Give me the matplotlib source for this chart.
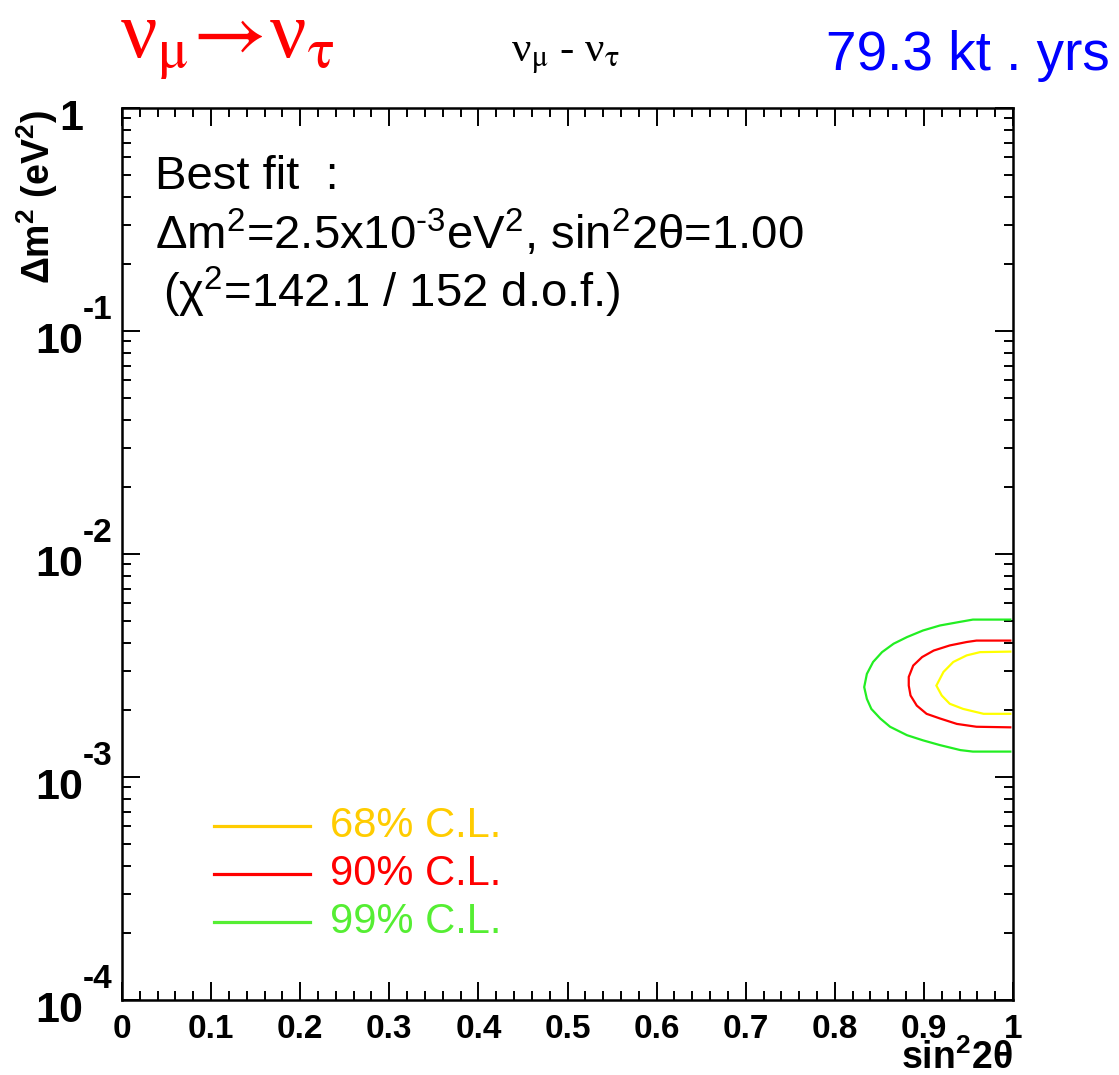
import numpy as np
import matplotlib
matplotlib.use("Agg")
import matplotlib.pyplot as plt
from matplotlib.ticker import MultipleLocator, LogLocator, FuncFormatter, NullFormatter

plt.rcParams['font.family'] = ['Liberation Sans', 'DejaVu Sans']
plt.rcParams['mathtext.fontset'] = 'custom'
plt.rcParams['mathtext.rm'] = 'Liberation Sans'
plt.rcParams['mathtext.it'] = 'Liberation Sans:italic'
plt.rcParams['mathtext.bf'] = 'Liberation Sans:bold'
plt.rcParams['mathtext.sf'] = 'Liberation Sans'

# allowed regions (sin^2 2theta, dm^2)
x68 = [0.997, 0.963, 0.948, 0.933, 0.922, 0.914, 0.920, 0.929, 0.944, 0.967, 0.997]
y68 = [3.65e-3, 3.63e-3, 3.51e-3, 3.28e-3, 2.96e-3, 2.57e-3, 2.32e-3, 2.13e-3, 2.02e-3, 1.92e-3, 1.92e-3]

x90 = [0.997, 0.959, 0.948, 0.929, 0.911, 0.898, 0.888, 0.883, 0.883, 0.885, 0.892,
       0.903, 0.918, 0.937, 0.959, 0.997]
y90 = [4.09e-3, 4.09e-3, 4.03e-3, 3.89e-3, 3.69e-3, 3.45e-3, 3.16e-3, 2.81e-3, 2.57e-3,
       2.32e-3, 2.09e-3, 1.92e-3, 1.83e-3, 1.73e-3, 1.68e-3, 1.67e-3]

x99 = [0.997, 0.955, 0.939, 0.918, 0.899, 0.881, 0.866, 0.853, 0.843, 0.836, 0.833,
       0.836, 0.841, 0.851, 0.862, 0.881, 0.899, 0.918, 0.941, 0.955, 0.997]
y99 = [5.08e-3, 5.08e-3, 4.95e-3, 4.78e-3, 4.54e-3, 4.24e-3, 3.96e-3, 3.63e-3, 3.28e-3,
       2.90e-3, 2.53e-3, 2.24e-3, 2.02e-3, 1.83e-3, 1.68e-3, 1.54e-3, 1.46e-3, 1.39e-3,
       1.32e-3, 1.30e-3, 1.30e-3]

cl_labels = ['68% C.L.', '90% C.L.', '99% C.L.']
cl_colors = ['#ffcc00', '#ff0000', '#55ee33']
contour_colors = ['#ffff00', '#ff0000', '#22ee22']
decades = [0, -1, -2, -3, -4]

W, H = 1119, 1075
PX = 72 / 100  # points per pixel at dpi 100
fig = plt.figure(figsize=(W / 100, H / 100), dpi=100)
ax = fig.add_axes([122 / W, 1 - 1000 / H, (1013 - 122) / W, (1000 - 108) / H])

for xs, ys, c in zip([x68, x90, x99], [y68, y90, y99], contour_colors):
    ax.plot(xs, ys, color=c, lw=1.6, solid_joinstyle='miter')

ax.set_xlim(0, 1)
ax.set_yscale('log')
ax.set_ylim(1e-4, 1)

ax.xaxis.set_major_locator(MultipleLocator(0.1))
ax.xaxis.set_minor_locator(MultipleLocator(0.02))
ax.yaxis.set_major_locator(LogLocator(base=10, numticks=10))
ax.yaxis.set_minor_locator(LogLocator(base=10, subs=np.arange(2, 10), numticks=20))
ax.yaxis.set_minor_formatter(NullFormatter())
ax.yaxis.set_major_formatter(NullFormatter())

def xfmt(v, pos):
    if abs(v) < 1e-9:
        return '0'
    if abs(v - 1) < 1e-9:
        return '1'
    return '%.1f' % v

ax.xaxis.set_major_formatter(FuncFormatter(xfmt))
ax.tick_params(which='both', direction='in', top=True, right=True, width=1.4, colors='black')
ax.tick_params(which='major', length=13)
ax.tick_params(which='minor', length=6.5)
ax.tick_params(axis='x', which='major', labelsize=24, pad=10)
for lab in ax.get_xticklabels():
    lab.set_fontweight('bold')
for s in ax.spines.values():
    s.set_linewidth(1.8)

# decade labels on the y axis: "10" with a raised exponent
for e in decades:
    base = '1' if e == 0 else '10'
    ax.annotate(base, xy=(0, 10.0 ** e), xycoords=('axes fraction', 'data'),
                xytext=(-39 * PX, -22 * PX), textcoords='offset points',
                ha='right', va='baseline', fontsize=31, fontweight='bold')
    if e != 0:
        ax.annotate('%d' % e, xy=(0, 10.0 ** e), xycoords=('axes fraction', 'data'),
                    xytext=(-39 * PX, 12 * PX), textcoords='offset points',
                    ha='left', va='baseline', fontsize=24, fontweight='bold')

# legend drawn by hand
for i, (lab, c) in enumerate(zip(cl_labels, cl_colors)):
    yy = 0.195 - i * 0.054
    ax.plot([0.103, 0.211], [yy, yy], color=c, lw=2.3, transform=ax.transAxes)
    ax.text(0.233, yy, lab, color=c, fontsize=30, va='center', ha='left', transform=ax.transAxes)

# best fit text
ax.text(155 / W, 1 - 189 / H, 'Best fit  :', fontsize=34, transform=fig.transFigure, va='baseline')
ax.text(155 / W, 1 - 249 / H, r'Δm$^2$=2.5x10$^{\text{-}3}$eV$^2$, sin$^2$2θ=1.00', fontsize=34,
        transform=fig.transFigure, va='baseline')
ax.text(163 / W, 1 - 307 / H, r'(χ$^2$=142.1 / 152 d.o.f.)', fontsize=34,
        transform=fig.transFigure, va='baseline')

# axis titles
fig.text(37 / W, 1 - 110 / H, r'$\mathbf{\Delta m^2\ (eV^2)}$', rotation=90, fontsize=27,
         fontweight='bold', ha='center', va='top')
fig.text(1013 / W, 1 - 1069 / H, r'$\mathbf{sin^22\theta}$', fontsize=27, fontweight='bold',
         ha='right', va='baseline')

# header, upright greek from a serif face
greek = dict(family=['Liberation Serif', 'DejaVu Serif'], math_fontfamily='stix', va='baseline')
fig.text(120 / W, 1 - 57 / H, r'ν$_{\mathrm{μ}}\!\rightarrow\!$ν$_{\mathrm{τ}}$', color='red',
         fontsize=58, ha='left', **greek)
fig.text(566 / W, 1 - 62 / H, r'ν$_{\mathrm{μ}}$ - ν$_{\mathrm{τ}}$', color='black',
         fontsize=31, ha='center', **greek)
fig.text(1110 / W, 1 - 70 / H, '79.3 kt . yrs', color='#0000ff', fontsize=39.5,
         ha='right', va='baseline')

fig.savefig('out.png', dpi=100)
